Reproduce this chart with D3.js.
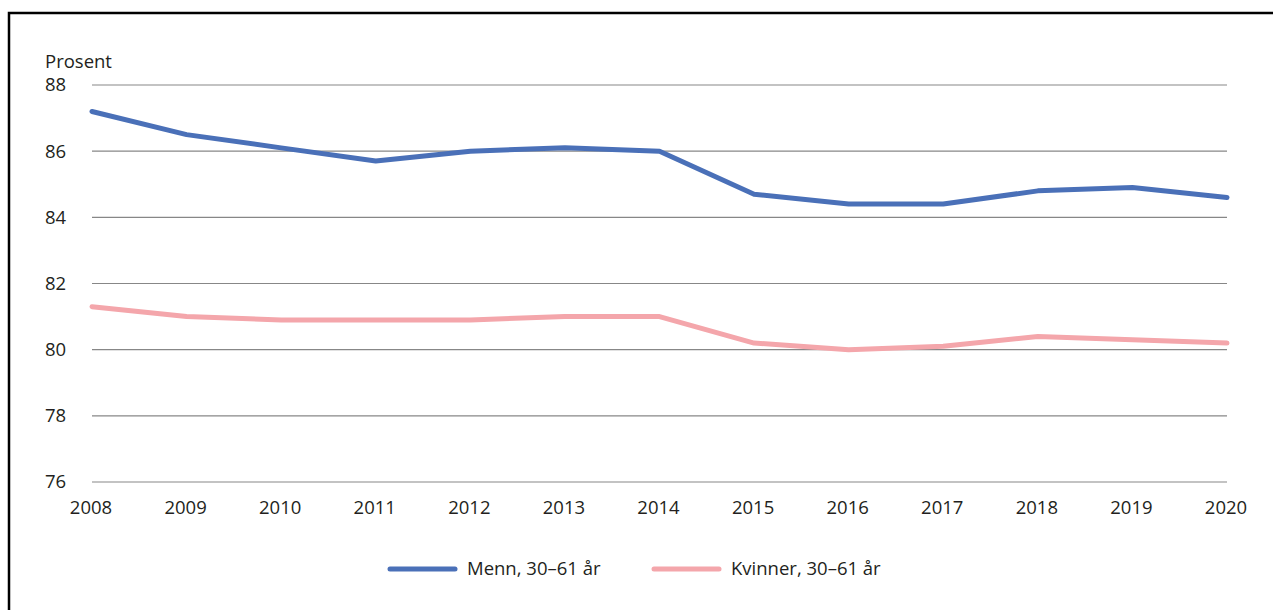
<!DOCTYPE html>
<html><head><meta charset="utf-8">
<script src="https://cdn.jsdelivr.net/npm/d3@7"></script>
<style>body{margin:0;background:#fff}text{font-family:"Open Sans","Noto Sans",sans-serif;fill:#231f20}</style>
</head><body>
<svg id="c" width="1273" height="610"></svg>
<script>
const years = [2008,2009,2010,2011,2012,2013,2014,2015,2016,2017,2018,2019,2020];
const menn = [87.2,86.5,86.1,85.7,86.0,86.1,86.0,84.7,84.4,84.4,84.8,84.9,84.6];
const kvinner = [81.3,81.0,80.9,80.9,80.9,81.0,81.0,80.2,80.0,80.1,80.4,80.3,80.2];
const yTicks = [76,78,80,82,84,86,88];
const seriesNames = ["Menn, 30–61 år","Kvinner, 30–61 år"];
const colors = ["#4a70b8","#f4a6ab"];
const fs = 18.5;

const svg = d3.select("#c");
svg.append("path").attr("d","M9,610 L9,13 L1273,13").attr("fill","none").attr("stroke","#000").attr("stroke-width",2.5);

const x = d3.scaleLinear().domain([2008,2020]).range([92,1227]);
const y = d3.scaleLinear().domain([76,88]).range([482,85]);

const g = svg.append("g");
g.selectAll("line.grid").data(yTicks).join("line")
  .attr("x1",92).attr("x2",1227).attr("y1",d=>y(d)).attr("y2",d=>y(d))
  .attr("stroke","#878787").attr("stroke-width",1.2);

g.selectAll("text.yt").data(yTicks).join("text")
  .attr("x",45).attr("y",d=>y(d)).attr("dy","0.35em").attr("font-size",fs).text(d=>d);

svg.append("text").attr("x",45).attr("y",68).attr("font-size",fs).text("Prosent");

g.selectAll("text.xt").data(years).join("text")
  .attr("x",d=>x(d)-1).attr("y",508).attr("dy","0.35em").attr("text-anchor","middle").attr("font-size",fs).text(d=>d);

const line = d3.line().x((d,i)=>x(years[i])).y(d=>y(d));
[menn,kvinner].forEach((s,i)=>{
  svg.append("path").attr("d",line(s)).attr("fill","none").attr("stroke",colors[i])
    .attr("stroke-width",5).attr("stroke-linejoin","round").attr("stroke-linecap","round");
});

const legX = [390,654];
seriesNames.forEach((n,i)=>{
  svg.append("line").attr("x1",legX[i]).attr("x2",legX[i]+65).attr("y1",569).attr("y2",569)
    .attr("stroke",colors[i]).attr("stroke-width",5).attr("stroke-linecap","round");
  svg.append("text").attr("x",legX[i]+77).attr("y",569).attr("dy","0.35em").attr("font-size",fs).text(n);
});
</script>
</body></html>
